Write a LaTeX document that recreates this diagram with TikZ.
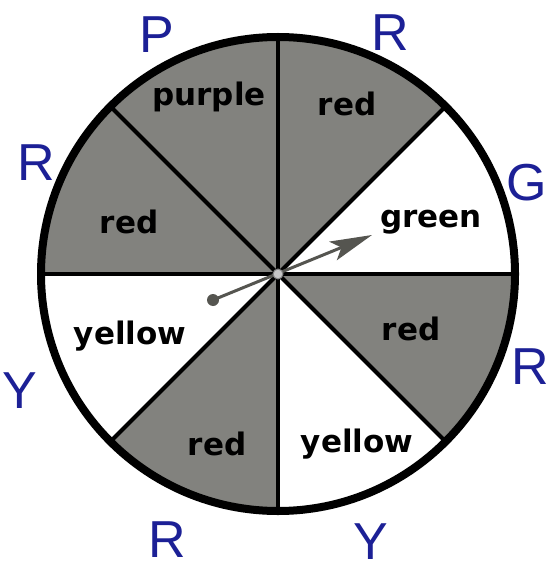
\documentclass[tikz,border=0pt]{standalone}
\usepackage{fontspec}
\newfontfamily\spinfont{DejaVu Sans}
\newfontfamily\handfont{Liberation Sans}
\usetikzlibrary{arrows.meta}
\definecolor{sectorgray}{RGB}{130,130,126}
\definecolor{inkblue}{RGB}{28,32,150}
\definecolor{needlegray}{RGB}{85,85,80}

\begin{document}
\begin{tikzpicture}[x=1pt, y=-1pt,
    lbl/.style={font=\spinfont\bfseries\fontsize{31}{33}\selectfont, text=black},
    hand/.style={font=\handfont\fontsize{52}{52}\selectfont, text=inkblue, inner sep=0pt},
]
\useasboundingbox[fill=white] (0,0) rectangle (549,572);
\coordinate (c) at (278,274);

% sectors, screen angles counter-clockwise from east
\foreach \a/\f in {0/white,45/sectorgray,90/sectorgray,135/sectorgray,
                   180/white,225/sectorgray,270/white,315/sectorgray}
  \fill[\f] (c) -- ++(-\a:237) arc[start angle=-\a, end angle=-\a-45, radius=237] -- cycle;
\foreach \a in {0,45,...,315}
  \draw[line width=4pt] (c) -- ++(-\a:237);
\draw[line width=8pt] (c) circle[radius=237];

\node[lbl] (purple) at (209,97) {purple};
\node[lbl] (redA) at (347,104) {red};
\node[lbl] (redB) at (129,222) {red};
\node[lbl] (green) at (431,222) {green};
\node[lbl] (yellowA) at (130,336) {yellow};
\node[lbl] (redC) at (411,329) {red};
\node[lbl] (redD) at (217,444) {red};
\node[lbl] (yellowB) at (357,444) {yellow};

% spinner needle
\coordinate (tail) at (213,300);
\coordinate (tip) at (372,235);
\draw[needlegray, line width=3pt, -{Stealth[length=42pt, width=20pt, inset=9pt]}] (tail) -- (tip);
\fill[needlegray] (tail) circle[radius=6];
\filldraw[fill=gray!45, draw=gray, line width=1pt] (c) circle[radius=5];

% handwritten notes
\node[hand] (nP) at (157,35) {P};
\node[hand] (nR1) at (390,33) {R};
\node[hand] (nG) at (527,183) {G};
\node[hand] (nR2) at (530,367) {R};
\node[hand] (nR3) at (36,163) {R};
\node[hand] (nY1) at (20,391) {Y};
\node[hand] (nR4) at (167,540) {R};
\node[hand] (nY2) at (371,542) {Y};
\end{tikzpicture}
\end{document}
